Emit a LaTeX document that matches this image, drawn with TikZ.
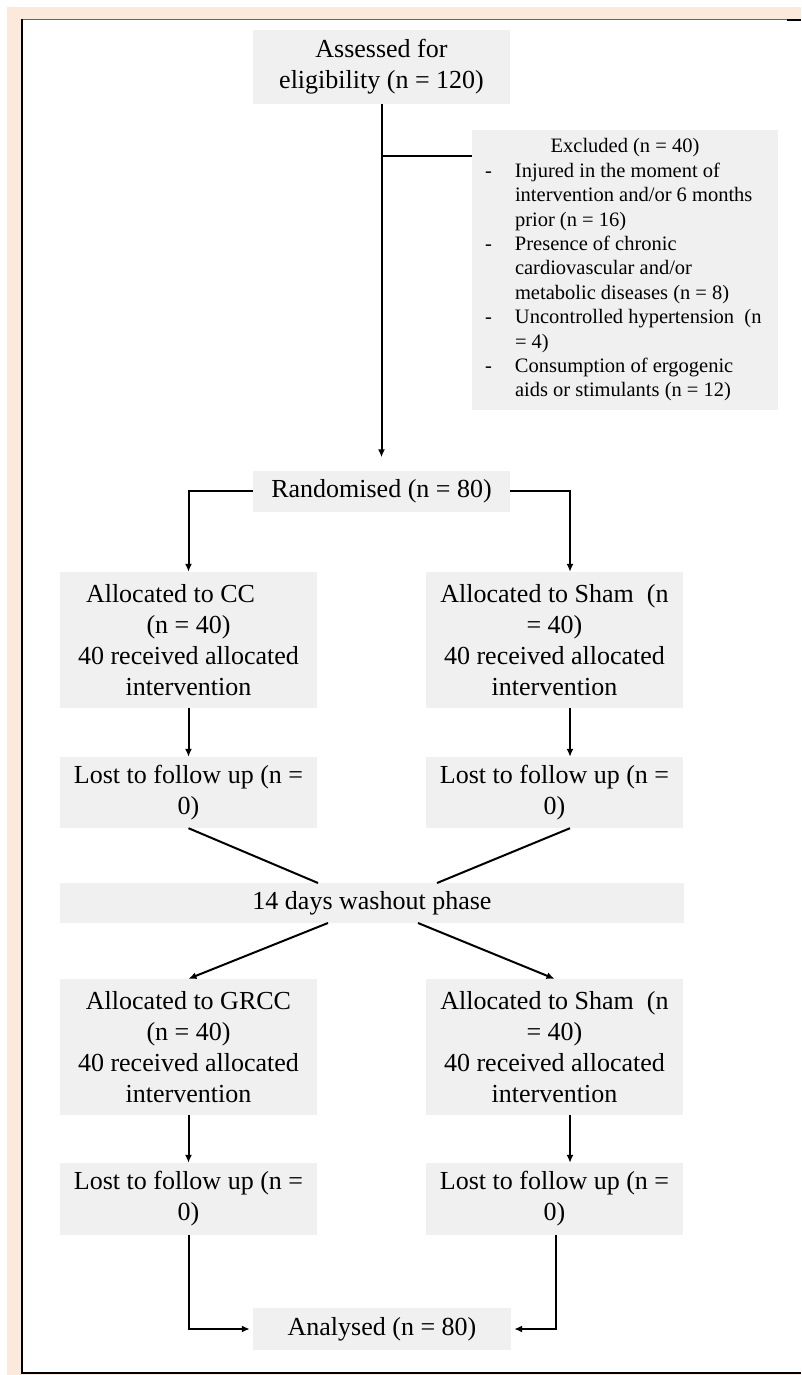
\documentclass[tikz,border=0pt]{standalone}
\usepackage{fontspec}
\setmainfont{Liberation Serif}
\usetikzlibrary{arrows.meta}
\definecolor{peach}{RGB}{251,233,220}
\definecolor{boxgray}{RGB}{240,240,240}
\begin{document}
\begin{tikzpicture}[x=1pt,y=-1pt,
  box/.style={fill=boxgray, inner sep=0pt, align=center, font=\fontsize{26}{31}\selectfont, minimum width=257pt},
  conn/.style={line width=2pt, draw=black},
  arr/.style={conn, -{Latex[length=8pt,width=7pt]}}]
% page and frame
\useasboundingbox (0,0) rectangle (801,1375);
\fill[white] (0,0) rectangle (801,1375);
\fill[peach] (7,7) rectangle (801,1375);
\fill[white] (22,20) rectangle (801,1373);
\draw[line width=1pt, black!60] (22,19.5) -- (787,19.5);
\draw[line width=2pt, black] (787,20) -- (801,20);
\draw[line width=2pt, black] (21.5,19) -- (21.5,1374);
\draw[line width=1.5pt, black] (21,1373) -- (801,1373);

% nodes
\node[box, minimum height=74pt] (assess) at (381.5,67) {Assessed for\\eligibility (n = 120)};
\node[fill=boxgray, inner sep=0pt, minimum width=306pt, minimum height=280pt,
      font=\fontsize{20.5}{24.4}\selectfont] (excl) at (625,270)
  {\begin{tabular}{@{\hspace{13pt}}p{30pt}@{}p{263pt}@{}}
   \multicolumn{2}{@{}c@{}}{Excluded (n = 40)}\\
   - & Injured in the moment of\\
     & intervention and/or 6 months\\
     & prior (n = 16)\\
   - & Presence of chronic\\
     & cardiovascular and/or\\
     & metabolic diseases (n = 8)\\
   - & Uncontrolled hypertension\ \ (n\\
     & = 4)\\
   - & Consumption of ergogenic\\
     & aids or stimulants (n = 12)
   \end{tabular}};
\node[box, minimum height=41pt] (rand) at (381.5,491) {Randomised (n = 80)};
\node[box, minimum height=136pt] (cc) at (188.5,640) {\mbox{Allocated to CC\hspace{36pt}}\\(n = 40)\\40 received allocated\\intervention};
\node[box, minimum height=136pt] (shamA) at (554.5,640) {Allocated to Sham\ \ (n\\= 40)\\40 received allocated\\intervention};
\node[box, minimum height=71pt] (lost1L) at (188.5,792.5) {Lost to follow up (n =\\0)};
\node[box, minimum height=71pt] (lost1R) at (554.5,792.5) {Lost to follow up (n =\\0)};
\node[box, minimum width=624pt, minimum height=40pt] (wash) at (372,903) {14 days washout phase};
\node[box, minimum height=136pt] (grcc) at (188.5,1047) {Allocated to GRCC\\(n = 40)\\40 received allocated\\intervention};
\node[box, minimum height=136pt] (shamB) at (554.5,1047) {Allocated to Sham\ \ (n\\= 40)\\40 received allocated\\intervention};
\node[box, minimum height=72pt] (lost2L) at (188.5,1199) {Lost to follow up (n =\\0)};
\node[box, minimum height=72pt] (lost2R) at (554.5,1199) {Lost to follow up (n =\\0)};
\node[box, minimum width=258pt, minimum height=42pt] (anal) at (382,1329) {Analysed (n = 80)};

% connectors
\draw[arr, shorten >=13pt] (assess.south) -- (rand.north);
\coordinate (br) at (381.5,156);
\draw[conn] (br) -- (br -| excl.west);
\draw[arr] (rand.west) -| (cc.north);
\draw[arr] (rand.east) -| ([xshift=15.5pt]shamA.north);
\draw[arr] (cc.south) -- (lost1L.north);
\draw[arr] ([xshift=15.5pt]shamA.south) -- ([xshift=15.5pt]lost1R.north);
\coordinate (wtl) at (318,883);
\coordinate (wtr) at (437,883);
\coordinate (wbl) at (328,923);
\coordinate (wbr) at (418,923);
\draw[conn] (lost1L.south) -- (wtl);
\draw[conn] ([xshift=15.5pt]lost1R.south) -- (wtr);
\draw[arr] (wbl) -- (grcc.north);
\draw[arr] (wbr) -- (shamB.north);
\draw[arr] (grcc.south) -- (lost2L.north);
\draw[arr] ([xshift=15.5pt]shamB.south) -- ([xshift=15.5pt]lost2R.north);
\draw[arr, shorten >=3pt] (lost2L.south) |- (anal.west);
\draw[arr, shorten >=3pt] ([xshift=1.5pt]lost2R.south) |- (anal.east);
\end{tikzpicture}
\end{document}
